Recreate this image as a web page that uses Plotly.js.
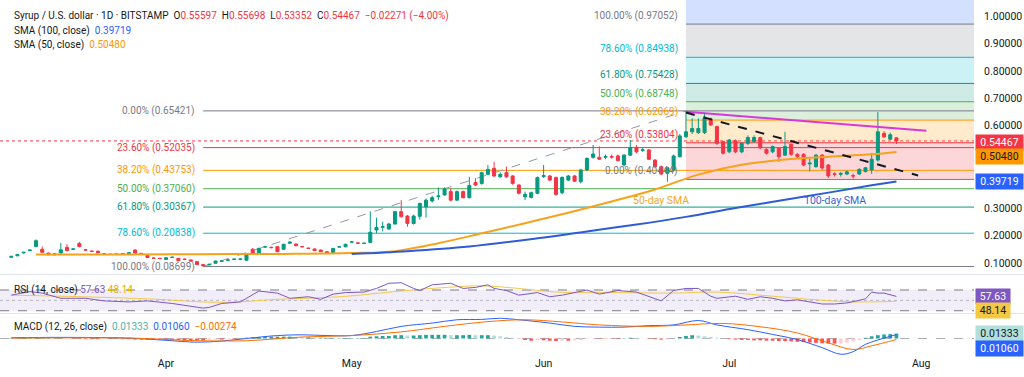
<!DOCTYPE html>
<html>
<head>
<meta charset="utf-8">
<script src="https://cdn.plot.ly/plotly-3.0.1.min.js"></script>
<style>
html,body{margin:0;padding:0;background:#ffffff;overflow:hidden;}
#chart{width:1024px;height:377px;}
</style>
</head>
<body>
<div id="chart"></div>
<script>
// ================= DATA =================
const firstCandleDate = [2025, 2, 7]; // 7 Mar 2025, daily candles
const openPrices = [
 .121,.126,.137,.145,.160,.150,.136,.130,.136,.157,
 .150,.171,.148,.143,.143,.134,.132,.131,.132,.134,
 .147,.135,.127,.118,.117,.113,.120,.117,.114,.111,
 .105,.094,.093,.099,.106,.110,.113,.114,.110,.150,
 .135,.158,.157,.159,.150,.172,.169,.160,.154,.151,
 .147,.141,.135,.158,.159,.176,.173,.171,.175,.220,
 .230,.224,.242,.287,.271,.244,.270,.305,.326,.342,
 .348,.360,.329,.360,.338,.393,.390,.423,.445,.414,
 .429,.417,.384,.341,.339,.354,.415,.417,.411,.356,
 .402,.417,.396,.439,.485,.485,.485,.488,.490,.457,
 .493,.520,.510,.512,.475,.451,.427,.439,.487,.560,
 .578,.575,.575,.624,.597,.542,.505,.545,.505,.536,
 .542,.557,.514,.505,.518,.493,.532,.496,.496,.461,
 .451,.493,.457,.425,.423,.424,.418,.424,.433,.439,
 .475,.572,.551,.55597];
const highPrices = [
 .126,.133,.140,.149,.186,.160,.138,.134,.173,.168,
 .153,.177,.150,.146,.145,.136,.134,.134,.135,.138,
 .150,.137,.129,.120,.119,.121,.122,.118,.116,.112,
 .106,.097,.097,.108,.109,.113,.116,.118,.131,.154,
 .156,.163,.160,.161,.170,.178,.171,.162,.156,.153,
 .149,.143,.155,.161,.170,.179,.175,.174,.288,.265,
 .250,.246,.290,.329,.275,.276,.320,.335,.345,.375,
 .375,.372,.364,.364,.414,.409,.433,.457,.469,.430,
 .451,.420,.387,.360,.360,.415,.457,.420,.415,.415,
 .420,.420,.443,.485,.530,.525,.495,.495,.495,.497,
 .548,.530,.520,.515,.478,.455,.450,.495,.570,.65421,
 .627,.627,.648,.630,.600,.545,.552,.550,.540,.565,
 .565,.560,.518,.528,.520,.578,.535,.500,.500,.481,
 .497,.497,.460,.430,.432,.437,.425,.445,.450,.500,
 .650,.580,.575,.55698];
const lowPrices = [
 .119,.125,.134,.143,.157,.136,.128,.128,.134,.142,
 .148,.157,.145,.140,.136,.131,.129,.130,.131,.133,
 .134,.132,.118,.115,.115,.112,.119,.107,.112,.106,
 .093,.08699,.091,.098,.104,.108,.112,.110,.108,.133,
 .133,.155,.153,.139,.148,.169,.161,.157,.151,.144,
 .140,.133,.133,.156,.157,.174,.170,.169,.172,.208,
 .215,.220,.240,.265,.232,.240,.258,.265,.320,.330,
 .345,.325,.325,.335,.335,.380,.385,.420,.413,.410,
 .410,.385,.350,.329,.335,.350,.410,.398,.345,.350,
 .398,.395,.390,.435,.480,.475,.478,.480,.470,.452,
 .490,.500,.505,.475,.445,.420,.396,.435,.485,.555,
 .570,.570,.570,.600,.530,.495,.500,.500,.500,.530,
 .538,.515,.495,.500,.469,.490,.490,.482,.453,.433,
 .447,.440,.410,.415,.415,.420,.407,.420,.430,.425,
 .470,.555,.548,.53352];
const closePrices = [
 .124,.131,.139,.147,.181,.139,.130,.133,.148,.145,
 .151,.160,.147,.142,.137,.133,.131,.132,.134,.137,
 .136,.134,.120,.117,.116,.119,.121,.108,.113,.107,
 .094,.090,.095,.107,.107,.111,.114,.114,.129,.135,
 .153,.159,.156,.141,.168,.176,.163,.159,.153,.145,
 .141,.135,.153,.159,.168,.177,.172,.172,.212,.229,
 .232,.242,.287,.269,.244,.271,.317,.329,.338,.344,
 .370,.329,.360,.338,.382,.384,.429,.441,.417,.423,
 .414,.390,.354,.350,.356,.411,.418,.402,.350,.412,
 .417,.398,.439,.481,.497,.478,.488,.486,.473,.493,
 .520,.505,.512,.478,.451,.424,.447,.490,.563,.578,
 .590,.590,.627,.603,.536,.500,.548,.505,.536,.557,
 .557,.520,.500,.524,.487,.524,.496,.487,.457,.464,
 .493,.446,.417,.423,.426,.432,.417,.441,.447,.478,
 .578,.560,.56738,.54467];

const sma50Dates = ['2025-03-11','2025-03-25','2025-04-07','2025-04-20','2025-05-01','2025-05-08','2025-05-15','2025-05-22','2025-05-29','2025-06-05','2025-06-12','2025-06-19','2025-06-26','2025-07-03','2025-07-10','2025-07-17','2025-07-24','2025-07-28'];
const sma50Values = [.131,.131,.132,.133,.136,.143,.172,.208,.245,.283,.324,.368,.422,.458,.477,.487,.496,.50480];
const sma100Dates = ['2025-05-01','2025-05-10','2025-05-20','2025-05-31','2025-06-08','2025-06-16','2025-06-24','2025-07-02','2025-07-10','2025-07-18','2025-07-24','2025-07-28'];
const sma100Values = [.133,.143,.160,.190,.215,.240,.268,.300,.330,.360,.383,.39719];

const rsiDates = ['2025-03-07','2025-03-10','2025-03-12','2025-03-15','2025-03-19','2025-03-22','2025-03-26','2025-03-29','2025-04-02','2025-04-05','2025-04-07','2025-04-08','2025-04-10','2025-04-13','2025-04-15','2025-04-16','2025-04-19','2025-04-21','2025-04-24','2025-04-26','2025-04-28','2025-04-30','2025-05-03','2025-05-05','2025-05-07','2025-05-09','2025-05-11','2025-05-12','2025-05-14','2025-05-17','2025-05-19','2025-05-21','2025-05-23','2025-05-24','2025-05-26','2025-05-28','2025-05-31','2025-06-02','2025-06-04','2025-06-06','2025-06-08','2025-06-10','2025-06-13','2025-06-16','2025-06-18','2025-06-20','2025-06-22','2025-06-24','2025-06-26','2025-06-28','2025-06-29','2025-07-02','2025-07-04','2025-07-06','2025-07-08','2025-07-10','2025-07-12','2025-07-14','2025-07-16','2025-07-18','2025-07-20','2025-07-22','2025-07-23','2025-07-24','2025-07-25','2025-07-26','2025-07-27','2025-07-28'];
const rsiValues = [60,67,64,54,54,49,47,49,44,39,35,36.5,44,47,60,68,64,54,57,52,62,65,66,73,83,84,73,69,80,83,73,75,80,73,69,60,65,57,60,65,70,62,69,66,57,49,69,73,73,58,54,58,52,57,54,49,51,47,43,43,45,50,53,66,64,64,61,57.63];
const rsiMaDates = ['2025-03-07','2025-03-15','2025-03-29','2025-04-10','2025-04-19','2025-04-29','2025-05-09','2025-05-15','2025-05-22','2025-05-28','2025-06-03','2025-06-13','2025-06-22','2025-06-29','2025-07-08','2025-07-15','2025-07-21','2025-07-28'];
const rsiMaValues = [60,58,53,46,52,57,68,74,78,73,66,65,64,66,58,51,47,48.14];

const macdDates = ['2025-03-07','2025-03-15','2025-03-26','2025-04-01','2025-04-06','2025-04-10','2025-04-14','2025-04-19','2025-04-23','2025-04-27','2025-05-01','2025-05-05','2025-05-09','2025-05-14','2025-05-18','2025-05-22','2025-05-25','2025-05-28','2025-06-02','2025-06-06','2025-06-10','2025-06-14','2025-06-18','2025-06-22','2025-06-26','2025-06-29','2025-07-04','2025-07-08','2025-07-12','2025-07-16','2025-07-19','2025-07-21','2025-07-23','2025-07-28'];
const macdValues = [.002,.003,.001,-.005,-.010,-.007,0,.008,.010,.008,.008,.019,.033,.042,.051,.052,.055,.051,.042,.033,.031,.031,.035,.037,.049,.037,.024,.011,-.003,-.025,-.043,-.036,-.016,.01060];
const signalDates = ['2025-03-07','2025-03-26','2025-04-06','2025-04-14','2025-04-23','2025-05-01','2025-05-09','2025-05-16','2025-05-23','2025-05-29','2025-06-04','2025-06-10','2025-06-18','2025-06-24','2025-06-30','2025-07-06','2025-07-12','2025-07-17','2025-07-21','2025-07-24','2025-07-28'];
const signalValues = [.001,.001,-.006,-.006,.004,.008,.018,.033,.046,.051,.045,.037,.033,.037,.041,.032,.015,-.012,-.030,-.020,-.00274];
const histValues = [
 .001,.001,.002,.002,.003,.002,.002,.001,.000,.000,
 -.001,-.001,-.002,-.002,-.002,-.001,-.001,-.001,-.002,-.002,
 -.003,-.003,-.003,-.004,-.004,-.004,-.004,-.004,-.005,-.005,
 -.005,-.005,-.004,-.003,-.003,-.002,-.002,-.001,.002,.003,
 .004,.005,.005,.005,.005,.005,.004,.003,.003,.002,
 .002,.001,.001,.001,.001,.001,.001,.001,.005,.006,
 .007,.007,.009,.009,.008,.008,.009,.010,.010,.010,
 .010,.009,.009,.009,.010,.009,.009,.009,.008,.006,
 .004,.002,-.001,-.004,-.006,-.005,-.005,-.006,-.007,-.006,
 -.006,-.005,-.004,-.002,-.001,-.001,-.001,-.001,-.001,.001,
 .002,.001,.000,-.001,-.002,-.003,-.002,.000,.004,.007,
 .009,.008,.006,.004,.002,.000,-.002,-.003,-.004,-.004,
 -.005,-.005,-.006,-.006,-.007,-.007,-.008,-.009,-.010,-.011,
 -.012,-.013,-.014,-.014,-.013,-.011,-.008,-.004,.002,.006,
 .009,.011,.012,.01333];

const monthTicks = ['2025-04-01','2025-05-01','2025-06-01','2025-07-01','2025-08-01'];
const monthLabels = ['Apr','May','Jun','Jul','Aug'];
const priceTicks = [0.1,0.2,0.3,0.6,0.7,0.8,0.9,1.0];

const fibLowDate = '2025-04-07';
const fibHighDate = '2025-06-24';
const fibLevelNames = ['0.00%','23.60%','38.20%','50.00%','61.80%','78.60%','100.00%'];
const leftFibValues = [0.65421,0.52035,0.43753,0.37060,0.30367,0.20838,0.08699];
const rightFibValues = [0.40444,0.53804,0.62069,0.68748,0.75428,0.84938,0.97052];

const resistanceDates = ['2025-06-24','2025-08-01 20:00'];
const resistanceValues = [0.651,0.582];
const fallingDates = ['2025-06-24','2025-07-31 12:00'];
const fallingValues = [0.648,0.419];

// ================= STYLE / BUILD =================
const FONT = 'Roboto, "Liberation Sans", sans-serif';
const TXT = '#131722';
const RED = '#f23645', GREEN = '#089981';
const fibColors = ['#787b86','#f23645','#ff9800','#4caf50','#089981','#00bcd4','#787b86'];
const fibFills = ['rgba(242,54,69,0.2)','rgba(255,152,0,0.2)','rgba(76,175,80,0.2)','rgba(8,153,129,0.2)','rgba(0,188,212,0.2)','rgba(120,123,134,0.2)'];

const W = 974, H = 355;               // plot area in px
const PY = p => (H - p) / H;          // pixel row -> paper y
const xStart = '2025-03-05 04:19', xEnd = '2025-08-09 12:43';

function dayStr(i){
  const d = new Date(Date.UTC(firstCandleDate[0], firstCandleDate[1], firstCandleDate[2] + i));
  return d.toISOString().slice(0,10);
}
const dates = openPrices.map((_, i) => dayStr(i));
const last = closePrices.length - 1;

const histColors = histValues.map((v, i) => {
  const p = i > 0 ? histValues[i-1] : 0;
  if (v >= 0) return v >= p ? '#26a69a' : '#b2dfdb';
  return v <= p ? '#ff5252' : '#ffcdd2';
});

const traces = [
  {type:'candlestick', x:dates, open:openPrices, high:highPrices, low:lowPrices, close:closePrices,
   xaxis:'x', yaxis:'y', hoverinfo:'skip',
   increasing:{line:{color:GREEN,width:1}, fillcolor:GREEN},
   decreasing:{line:{color:RED,width:1}, fillcolor:RED}},
  {type:'scatter', mode:'lines', x:sma50Dates, y:sma50Values, xaxis:'x', yaxis:'y',
   line:{color:'#f7a21b', width:2, shape:'spline'}, hoverinfo:'skip'},
  {type:'scatter', mode:'lines', x:sma100Dates, y:sma100Values, xaxis:'x', yaxis:'y',
   line:{color:'#2f5bd8', width:2, shape:'spline'}, hoverinfo:'skip'},
  {type:'scatter', mode:'lines', x:rsiMaDates, y:rsiMaValues, xaxis:'x', yaxis:'y2',
   line:{color:'#f2c94c', width:1, shape:'spline'}, hoverinfo:'skip'},
  {type:'scatter', mode:'lines', x:rsiDates, y:rsiValues, xaxis:'x', yaxis:'y2',
   line:{color:'#7e57c2', width:1}, hoverinfo:'skip'},
  {type:'bar', x:dates, y:histValues, xaxis:'x', yaxis:'y3', marker:{color:histColors, line:{width:0}},
   width:86400000*0.6, hoverinfo:'skip'},
  {type:'scatter', mode:'lines', x:macdDates, y:macdValues, xaxis:'x', yaxis:'y3',
   line:{color:'#2962ff', width:1, shape:'spline'}, hoverinfo:'skip'},
  {type:'scatter', mode:'lines', x:signalDates, y:signalValues, xaxis:'x', yaxis:'y3',
   line:{color:'#ff6d00', width:1, shape:'spline'}, hoverinfo:'skip'}
];

const shapes = [];
// right fibonacci zones
for (let i = 0; i < rightFibValues.length - 1; i++) {
  shapes.push({type:'rect', xref:'x', yref:'y', x0:fibHighDate, x1:xEnd,
    y0:rightFibValues[i], y1:rightFibValues[i+1], fillcolor:fibFills[i], line:{width:0}, layer:'below'});
}
shapes.push({type:'rect', xref:'x', yref:'y', x0:fibHighDate, x1:xEnd,
  y0:rightFibValues[rightFibValues.length-1], y1:1.2, fillcolor:'rgba(41,98,255,0.2)', line:{width:0}, layer:'below'});
rightFibValues.forEach((v, i) => shapes.push({type:'line', xref:'x', yref:'y', x0:fibHighDate, x1:xEnd,
  y0:v, y1:v, line:{color:fibColors[i], width:1}, layer:'below'}));
// left fibonacci lines
leftFibValues.forEach((v, i) => shapes.push({type:'line', xref:'x', yref:'y', x0:fibLowDate, x1:xEnd,
  y0:v, y1:v, line:{color:fibColors[i], width:1}, layer:'below'}));
// fib trend line
shapes.push({type:'line', xref:'x', yref:'y', x0:fibLowDate, x1:fibHighDate,
  y0:leftFibValues[6], y1:leftFibValues[0], line:{color:'#9598a1', width:1, dash:'dash'}, layer:'below'});
// current price line
shapes.push({type:'line', xref:'paper', yref:'y', x0:0, x1:1, y0:closePrices[last], y1:closePrices[last],
  line:{color:RED, width:1, dash:'dot'}, layer:'below'});
// drawn trend lines
shapes.push({type:'line', xref:'x', yref:'y', x0:resistanceDates[0], x1:resistanceDates[1],
  y0:resistanceValues[0], y1:resistanceValues[1], line:{color:'#d63ad6', width:2}});
shapes.push({type:'line', xref:'x', yref:'y', x0:fallingDates[0], x1:fallingDates[1],
  y0:fallingValues[0], y1:fallingValues[1], line:{color:'#131722', width:2, dash:'dash'}});
// RSI band and levels
shapes.push({type:'rect', xref:'paper', yref:'y2', x0:0, x1:1, y0:30, y1:70, fillcolor:'rgba(126,87,194,0.1)', line:{width:0}, layer:'below'});
[70,30].forEach(v => shapes.push({type:'line', xref:'paper', yref:'y2', x0:0, x1:1, y0:v, y1:v, line:{color:'#787b86', width:1, dash:'dash'}, layer:'below'}));
shapes.push({type:'line', xref:'paper', yref:'y2', x0:0, x1:1, y0:50, y1:50, line:{color:'rgba(120,123,134,0.5)', width:1, dash:'dot'}, layer:'below'});
// MACD zero
shapes.push({type:'line', xref:'paper', yref:'y3', x0:0, x1:1, y0:0, y1:0, line:{color:'rgba(120,123,134,0.6)', width:1, dash:'dash'}, layer:'below'});
// pane separators
[274.5, 313.5].forEach(p => shapes.push({type:'line', xref:'paper', yref:'paper', x0:0, x1:1024/W, y0:PY(p), y1:PY(p), line:{color:'#e0e3eb', width:1}}));

const f5 = v => v.toFixed(5);
const sp = (c, t) => `<span style="color:${c}">${t}</span>`;
const chg = closePrices[last] - closePrices[last-1];
const chgPct = chg / closePrices[last-1] * 100;
const minus = s => s.replace('-', '\u2212');

const annotations = [];
function note(text, xpx, ypx, opts) {
  annotations.push(Object.assign({xref:'paper', yref:'paper', x:xpx / W, y:PY(ypx), text:text, showarrow:false,
    xanchor:'left', yanchor:'middle', font:{family:FONT, size:10, color:TXT}}, opts || {}));
}
const nb = '\u00a0';
note(`Syrup / U.S. dollar · 1D · BITSTAMP${nb}${nb}O${sp(RED,f5(openPrices[last]))}${nb}${nb}H${sp(RED,f5(highPrices[last]))}${nb}${nb}L${sp(RED,f5(lowPrices[last]))}${nb}${nb}C${sp(RED,f5(closePrices[last]))}${nb}${nb}${sp(RED, minus(f5(chg)) + ' (' + minus(chgPct.toFixed(2)) + '%)')}`, 12, 15.5);
note(`SMA (100, close)${nb}${nb}${sp('#2962ff', f5(sma100Values[sma100Values.length-1]))}`, 12, 31);
note(`SMA (50, close)${nb}${nb}${sp('#ff9800', f5(sma50Values[sma50Values.length-1]))}`, 12, 45);
note(`RSI (14, close)${nb}${sp('#7e57c2', rsiValues[rsiValues.length-1].toFixed(2))}${nb}${sp('#e0b000', rsiMaValues[rsiMaValues.length-1].toFixed(2))}`, 12, 290);
note(`MACD (12, 26, close)${nb}${nb}${sp('#4db6ac', f5(histValues[last]))}${nb}${nb}${sp('#2962ff', f5(macdValues[macdValues.length-1]))}${nb}${nb}${sp('#ff6d00', minus(f5(signalValues[signalValues.length-1])))}`, 12, 327);

// fib labels
leftFibValues.forEach((v, i) => annotations.push({xref:'x', yref:'y', x:fibLowDate, y:v, xanchor:'right', yanchor:'middle', xshift:-6,
  text:`${fibLevelNames[i]} (${f5(v)})`, showarrow:false, font:{family:FONT, size:10, color:fibColors[i]}}));
rightFibValues.forEach((v, i) => annotations.push({xref:'x', yref:'y', x:fibHighDate, y:v, xanchor:'right', yanchor:'bottom', xshift:-6, yshift:0,
  text:`${fibLevelNames[i]} (${f5(v)})`, showarrow:false, font:{family:FONT, size:10, color:fibColors[i]}}));

// SMA labels
annotations.push({xref:'x', yref:'y', x:'2025-06-20', y:0.329, text:'50-day SMA', showarrow:false, font:{family:FONT, size:10.5, color:'#f5a623'}});
annotations.push({xref:'x', yref:'y', x:'2025-07-18', y:0.329, text:'100-day SMA', showarrow:false, font:{family:FONT, size:10.5, color:'#3a5fd8'}});

// right-side value boxes
function box(text, ypx, bg, fg, w) {
  annotations.push({xref:'paper', yref:'paper', x:1, y:PY(ypx), xanchor:'left', yanchor:'middle', xshift:1,
    text:text, showarrow:false, bgcolor:bg, borderpad:2, width:w, height:11, align:'center',
    font:{family:FONT, size:10.5, color:fg}});
}
box(f5(closePrices[last]), 142, RED, '#ffffff', 43);
box(f5(sma50Values[sma50Values.length-1]), 156, '#ff9800', TXT, 43);
box(f5(sma100Values[sma100Values.length-1]), 181.5, '#2962ff', '#ffffff', 43);
box(rsiValues[rsiValues.length-1].toFixed(2), 296, '#7e57c2', '#ffffff', 30);
box(rsiMaValues[rsiMaValues.length-1].toFixed(2), 310.5, '#f5c842', TXT, 30);
box(f5(histValues[last]), 333.5, '#b2dfdb', TXT, 43);
box(f5(macdValues[macdValues.length-1]), 348, '#2962ff', '#ffffff', 43);

const layout = {
  width:1024, height:377, margin:{l:0, r:50, t:0, b:22, pad:0},
  paper_bgcolor:'#ffffff', plot_bgcolor:'#ffffff', showlegend:false,
  font:{family:FONT, size:10, color:TXT},
  xaxis:{type:'date', range:[xStart, xEnd], rangeslider:{visible:false}, anchor:'y3',
    tickvals:monthTicks, ticktext:monthLabels, showgrid:false, zeroline:false, showline:false,
    ticks:'', tickfont:{family:FONT, size:10.5, color:TXT}, fixedrange:true},
  yaxis:{domain:[PY(272), 1], range:[0.0671, 1.0583], side:'right', anchor:'x',
    tickvals:priceTicks, ticktext:priceTicks.map(f5), showgrid:false, zeroline:false, showline:false,
    ticks:'outside', ticklen:7, tickcolor:'rgba(0,0,0,0)', tickfont:{family:FONT, size:10.5, color:TXT}},
  yaxis2:{domain:[PY(313), PY(277)], range:[25.6, 95.1], anchor:'x', showticklabels:false, showgrid:false, zeroline:false},
  yaxis3:{domain:[0, PY(315)], range:[-0.045, 0.064], anchor:'x', showticklabels:false, showgrid:false, zeroline:false},
  shapes:shapes, annotations:annotations
};

Plotly.newPlot('chart', traces, layout, {staticPlot:true, displayModeBar:false});
</script>
</body>
</html>
